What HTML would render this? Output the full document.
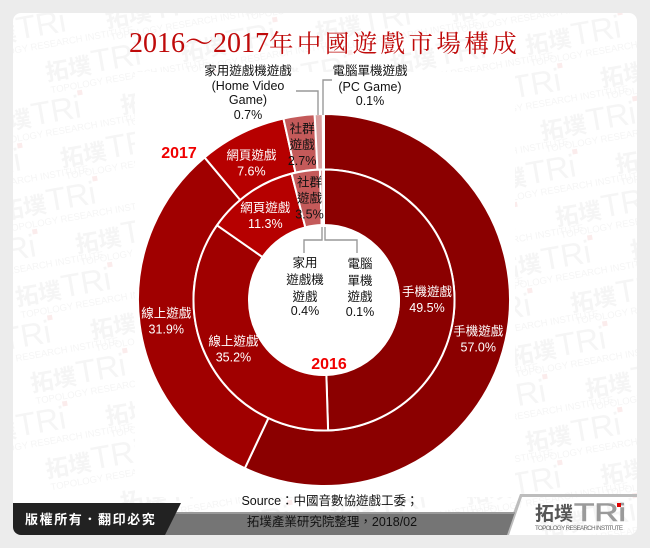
<!DOCTYPE html>
<html><head><meta charset="utf-8"><title>2016～2017年中國遊戲市場構成</title>
<style>
html,body{margin:0;padding:0;background:#ececec;width:650px;height:548px;overflow:hidden}
svg{display:block}
text{font-family:"Liberation Sans","Noto Sans CJK TC",sans-serif}
.lb text,.lb{font-family:"Liberation Sans","WenQuanYi Zen Hei","Noto Sans CJK TC",sans-serif}
</style></head>
<body>
<svg id="chart" xmlns="http://www.w3.org/2000/svg" width="650" height="548" viewBox="0 0 650 548">
<defs><clipPath id="card-clip"><rect x="13" y="13" width="624" height="522" rx="8"/></clipPath></defs>
<rect x="13" y="13" width="624" height="522" rx="8" fill="#fff"/>
<g id="wm" clip-path="url(#card-clip)"></g>
<rect x="135" y="72" width="380" height="425" fill="#fff"/>
<text x="129" y="52" font-size="28" fill="#bf0a0a" style="font-family:'Liberation Serif','Noto Serif CJK SC',serif">2016～2017<tspan font-size="24.5" letter-spacing="3.4">年中國遊戲市場構成</tspan></text>
<g id="rings"></g>
<circle cx="325" cy="300" r="75" fill="#fff"/>
<g id="slice-labels" class="lb" font-size="12.5" text-anchor="middle"></g>
<g fill="none" stroke="#999" stroke-width="1.4">
<polyline points="296,91 318,91 318,115"/>
<polyline points="323,115 323,80 332,80"/>
<polyline points="322,227 322,240 304,240 304,253"/>
<polyline points="325,227 325,240 357,240 357,253"/>
</g>
<g class="lb" font-size="12.5" text-anchor="middle" fill="#111">
<text><tspan x="248" y="75">家用遊戲機遊戲</tspan><tspan x="248" y="90">(Home Video</tspan><tspan x="248" y="104">Game)</tspan><tspan x="248" y="119">0.7%</tspan></text>
<text><tspan x="370" y="75">電腦單機遊戲</tspan><tspan x="370" y="91">(PC Game)</tspan><tspan x="370" y="105">0.1%</tspan></text>
<text><tspan x="305" y="267">家用</tspan><tspan x="305" y="284">遊戲機</tspan><tspan x="305" y="301">遊戲</tspan><tspan x="305" y="315">0.4%</tspan></text>
<text><tspan x="360" y="268">電腦</tspan><tspan x="360" y="285">單機</tspan><tspan x="360" y="301">遊戲</tspan><tspan x="360" y="316">0.1%</tspan></text>
</g>
<text x="179" y="158" font-size="16" font-weight="bold" fill="#f00000" text-anchor="middle">2017</text>
<text x="329" y="369" font-size="16" font-weight="bold" fill="#f00000" text-anchor="middle">2016</text>
<polygon points="520,494 637,494 637,497 522,497 509,535 505,535" fill="#bdbdbd"/>
<polygon points="165,512 515,512 507,535 165,535" fill="#757575"/>
<polygon points="165,512 515,512 515,514 165,514" fill="#9a9a9a"/>
<path d="M13,503H181L165,535H21a8,8 0 0 1-8-8Z" fill="#222"/>
<text x="25" y="524" font-size="13" fill="#fff" letter-spacing="1.6" font-weight="bold">版權所有．翻印必究</text>
<text class="lb" x="330" y="505" font-size="12.5" text-anchor="middle" fill="#111">Source：中國音數協遊戲工委；</text>
<text class="lb" x="332" y="526" font-size="12.5" text-anchor="middle" fill="#111">拓墣產業研究院整理，2018/02</text>
<text x="535" y="520" font-size="19" font-weight="bold" fill="#555">拓墣</text>
<text x="574" y="521" font-size="25" fill="#9a9a9a" textLength="52" lengthAdjust="spacingAndGlyphs" stroke="#9a9a9a" stroke-width=".6">TRi</text>
<rect x="617" y="503" width="4" height="4" fill="#e00000"/>
<text x="535" y="530" font-size="6.2" fill="#666" textLength="88">TOPOLOGY RESEARCH INSTITUTE</text>
</svg>
<script>
const categories = ['手機遊戲','線上遊戲','網頁遊戲','社群遊戲','家用遊戲機遊戲','電腦單機遊戲'];
const values2017 = [57.0,31.9,7.6,2.7,0.7,0.1];
const values2016 = [49.5,35.2,11.3,3.5,0.4,0.1];
const colors = ['#8b0000','#a00000','#b60000','#c45a5a','#d9a0a0','#e8c8c8'];
const NS = 'http://www.w3.org/2000/svg';
const cx = 324, cy = 300;
function polar(pct, r){ const a = pct/100*2*Math.PI; return [cx + r*Math.sin(a), cy - r*Math.cos(a)]; }
function arcPath(p0, p1, r0, r1){
  const large = (p1-p0) > 50 ? 1 : 0;
  const a = polar(p0,r1), b = polar(p1,r1), c = polar(p1,r0), d = polar(p0,r0);
  return `M${a[0]},${a[1]}A${r1},${r1} 0 ${large} 1 ${b[0]},${b[1]}L${c[0]},${c[1]}A${r0},${r0} 0 ${large} 0 ${d[0]},${d[1]}Z`;
}
const rings = document.getElementById('rings');
const labels = document.getElementById('slice-labels');
function drawRing(values, year, r0, r1, labelR, nudges, labelled){
  let acc = 0;
  values.forEach((v,i)=>{
    const path = document.createElementNS(NS,'path');
    path.setAttribute('d', arcPath(acc, acc+v, r0, r1));
    path.setAttribute('fill', colors[i]);
    path.setAttribute('stroke', '#fff');
    path.setAttribute('stroke-width', '2');
    
    
    rings.appendChild(path);
    if (i < labelled){
      const m = polar(acc+v/2, labelR);
      const n = nudges[i];
      const t = document.createElementNS(NS,'text');
      
      
      t.setAttribute('fill', i===3 ? '#111' : '#fff');
      const name = categories[i];
      const lines = i===3 ? [name.slice(0,2), name.slice(2), v.toFixed(1)+'%'] : [name, v.toFixed(1)+'%'];
      const lh = 16;
      lines.forEach((s,k)=>{
        const ts = document.createElementNS(NS,'tspan');
        const x = m[0]+n[0];
        const y = m[1]+n[1] + (k-(lines.length-1)/2)*lh + 4.5;
        ts.setAttribute('x', x);
        ts.setAttribute('y', y);
        ts.textContent = s;
        t.appendChild(ts);
      });
      labels.appendChild(t);
    }
    acc += v;
  });
}
drawRing(values2017, 2017, 130.5, 186, 155, [[3,5],[-4,1],[-4,2],[-1,-2]], 4);
drawRing(values2016, 2016, 75, 130.5, 103, [[0,1],[0,0],[0,0],[0,0]], 4);
const wm = document.getElementById('wm');
for (let i=-3;i<12;i++){ for (let j=-3;j<9;j++){
  const x = 525 + (i-6)*75 + j*15, y = 42 + (i-6)*33 + j*86;
  if (x<-80||x>660||y<-30||y>550) continue;
  const g = document.createElementNS(NS,'g');
  g.setAttribute('transform', `translate(${x},${y}) rotate(-10)`);
  
  
  g.innerHTML = '<text x="0" y="12" font-size="23" font-weight="bold" fill="#f5f5f5">拓墣</text><text x="47" y="12" font-size="32" fill="#f5f5f5">TRi</text><rect x="96" y="-15" width="5" height="5" fill="#fbecec"/><text x="2" y="25" font-size="9.5" fill="#f5f5f5">TOPOLOGY RESEARCH INSTITUTE</text>';
  wm.appendChild(g);
}}
</script>
</body></html>
